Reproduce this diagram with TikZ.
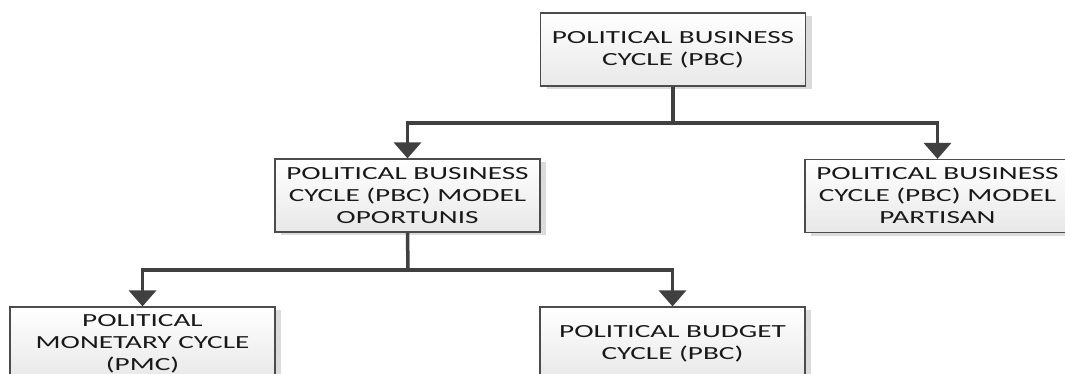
\documentclass[tikz,border=0pt]{standalone}
\usepackage{fontspec}
\setmainfont{Carlito}[FakeStretch=1.58]
\usetikzlibrary{arrows.meta,shadows}
\begin{document}
\begin{tikzpicture}[x=1pt,y=-1pt,
  box/.style={draw=black!70, line width=1.2pt, top color=white, bottom color=black!9,
    minimum width=265pt, minimum height=73pt, align=center, inner sep=0pt,
    font=\fontsize{18.5}{22}\selectfont, text=black!90,
    drop shadow={shadow xshift=6pt, shadow yshift=-3pt, fill=black!14, opacity=1}},
  conn/.style={draw=black!75, line width=3.5pt},
  arr/.style={conn, -{Triangle[width=27pt,length=16pt]}, shorten >=0pt}]
\useasboundingbox (0,0) rectangle (1065,373);
\clip (0,0) rectangle (1065,373);
\fill[white] (0,0) rectangle (1065,373);
\node[box] (top) at (673,49.5) {POLITICAL BUSINESS\\CYCLE (PBC)};
\node[box] (midL) at (407.5,195.5) {POLITICAL BUSINESS\\CYCLE (PBC) MODEL\\OPORTUNIS};
\node[box] (midR) at (937.5,196) {POLITICAL BUSINESS\\CYCLE (PBC) MODEL\\PARTISAN};
\node[box] (botL) at (142.5,343.5) {POLITICAL\\MONETARY CYCLE\\(PMC)};
\node[box] (botR) at (672.5,343.5) {POLITICAL BUDGET\\CYCLE (PBC)};
\coordinate (j1) at (673,123);
\coordinate (j2) at (408,270);
\draw[conn] (top.south) -- (j1);
\draw[arr] (j1) -| (midL.north);
\draw[arr] (j1) -| (midR.north);
\draw[conn] (midL.south) -- (j2);
\draw[arr] (j2) -| (botL.north);
\draw[arr] (j2) -| (botR.north);
\end{tikzpicture}
\end{document}
